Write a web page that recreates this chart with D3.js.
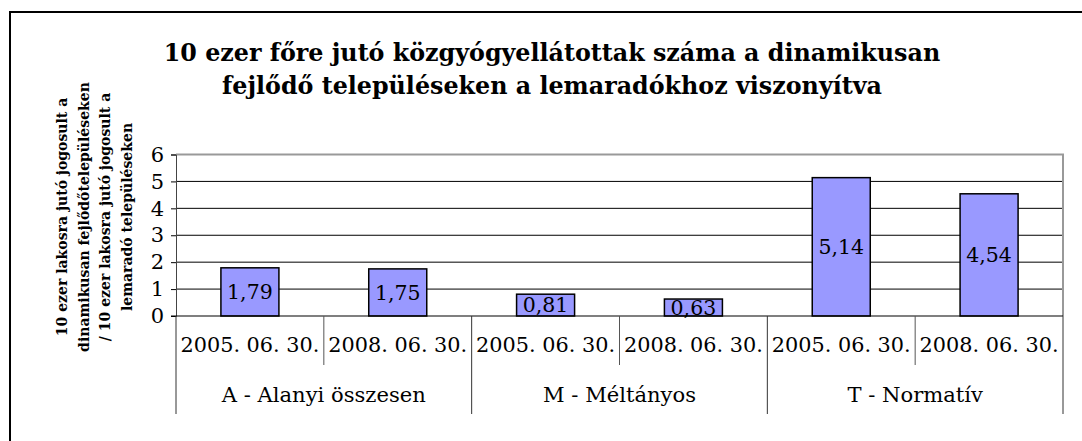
<!DOCTYPE html>
<html><head><meta charset="utf-8">
<script src="https://cdn.jsdelivr.net/npm/d3@7"></script>
<style>body{margin:0;background:#fff}svg{display:block}</style>
</head><body>
<svg id="c" width="1082" height="441"></svg>
<script>
const titleLines = ["10 ezer főre jutó közgyógyellátottak száma a dinamikusan", "fejlődő településeken a lemaradókhoz viszonyítva"];
const yTitleLines = ["10 ezer lakosra jutó jogosult a", "dinamikusan fejlődőtelepüléseken", "/ 10 ezer lakosra jutó jogosult a", "lemaradó településeken"];
const groups = ["A - Alanyi összesen", "M - Méltányos", "T - Normatív"];
const dates = ["2005. 06. 30.", "2008. 06. 30."];
const values = [1.79, 1.75, 0.81, 0.63, 5.14, 4.54];
const yTicks = [0, 1, 2, 3, 4, 5, 6];

const svg = d3.select("#c");
const serif = "'DejaVu Serif', 'Liberation Serif', serif";
const L = 176, R = 1063, T = 154.5, B = 316;
const rowDate = 365, rowGroup = 414;

function fit(sel, base, target) {
  sel.attr("font-size", base);
  const w = sel.node().getComputedTextLength();
  sel.attr("font-size", base * target / w);
}

// outer chart border
svg.append("rect").attr("x", 10).attr("y", 12).attr("width", 1100).attr("height", 460)
  .attr("fill", "none").attr("stroke", "#000").attr("stroke-width", 2);

// title
const tt = svg.append("g").selectAll("text").data(titleLines).join("text")
  .attr("x", 552).attr("y", (d, i) => 61 + i * 33)
  .attr("text-anchor", "middle").attr("font-family", serif).attr("font-weight", "bold")
  .text(d => d);
fit(tt, 21, 777);

// y title
const yt = svg.append("g").attr("transform", "translate(0,217) rotate(-90)");
const ytt = yt.selectAll("text").data(yTitleLines).join("text")
  .attr("x", 0).attr("y", (d, i) => 62 + i * 21.7)
  .attr("dy", "0.35em")
  .attr("text-anchor", "middle").attr("font-family", serif).attr("font-weight", "bold")
  .text(d => d);
{
  ytt.attr("font-size", 13);
  const w = ytt.nodes()[1].getComputedTextLength();
  ytt.attr("font-size", 13 * 270 / w);
}

const cats = d3.range(values.length);
const x = d3.scaleBand().domain(cats).range([L, R]).paddingInner(0.6076).paddingOuter(0.3038);
const y = d3.scaleLinear().domain([0, 6]).range([B, T]);

// gridlines
svg.append("g").selectAll("line").data(yTicks.filter(t => t > 0 && t < 6)).join("line")
  .attr("x1", L).attr("x2", R).attr("y1", d => y(d)).attr("y2", d => y(d))
  .attr("stroke", "#000").attr("stroke-width", 1);

// plot border top/right gray
svg.append("path").attr("d", `M${L},${y(6)}H${R}V${B}`).attr("fill", "none")
  .attr("stroke", "#999").attr("stroke-width", 2);

// y axis
const yAxis = d3.axisLeft(y).tickValues(yTicks).tickSize(5).tickFormat(d3.format("d"));
const ya = svg.append("g").attr("transform", `translate(${L},0)`).call(yAxis);
ya.select(".domain").attr("stroke", "#444");
ya.selectAll(".tick line").attr("stroke", "#000");
ya.selectAll(".tick text").attr("font-family", serif).attr("font-size", 21).attr("fill", "#000").attr("x", -12);

// bars
svg.append("g").selectAll("rect").data(values).join("rect")
  .attr("x", (d, i) => x(i)).attr("width", x.bandwidth())
  .attr("y", d => y(d)).attr("height", d => B - y(d))
  .attr("fill", "#9999FF").attr("stroke", "#000").attr("stroke-width", 1.5);

// data labels
svg.append("g").selectAll("text").data(values).join("text")
  .attr("x", (d, i) => x(i) + x.bandwidth() / 2).attr("y", d => (y(d) + B) / 2)
  .attr("dy", "0.36em").attr("text-anchor", "middle").attr("font-family", serif)
  .attr("font-size", 20.5).text(d => d.toFixed(2).replace(".", ","));

// zero line
svg.append("line").attr("x1", L - 5).attr("x2", R).attr("y1", B).attr("y2", B).attr("stroke", "#000").attr("stroke-width", 1.2);

// category axis
const step = x.step();
const ax = svg.append("g");
ax.selectAll("line.edge").data([L, R]).join("line").attr("class", "edge")
  .attr("x1", d => d).attr("x2", d => d).attr("y1", B).attr("y2", rowGroup)
  .attr("stroke", "#333").attr("stroke-width", 1);
ax.selectAll("line.g").data(d3.range(1, groups.length)).join("line").attr("class", "g")
  .attr("x1", d => L + d * 2 * step).attr("x2", d => L + d * 2 * step).attr("y1", B).attr("y2", rowGroup)
  .attr("stroke", "#333").attr("stroke-width", 1);
ax.selectAll("line.d").data(d3.range(groups.length)).join("line").attr("class", "d")
  .attr("x1", d => L + (2 * d + 1) * step).attr("x2", d => L + (2 * d + 1) * step).attr("y1", B).attr("y2", rowDate)
  .attr("stroke", "#555").attr("stroke-width", 1);
const dl = ax.selectAll("text.d").data(cats).join("text").attr("class", "d")
  .attr("x", i => x(i) + x.bandwidth() / 2).attr("y", 345).attr("dy", "0.35em")
  .attr("text-anchor", "middle").attr("font-family", serif)
  .text(i => dates[i % 2]);
fit(dl, 19, 139);
const gl = ax.selectAll("text.g").data(groups).join("text").attr("class", "g")
  .attr("x", (d, i) => L + (2 * i + 1) * step).attr("y", 395).attr("dy", "0.35em")
  .attr("text-anchor", "middle").attr("font-family", serif)
  .text(d => d);
fit(gl, 19, 204);
</script>
</body></html>
